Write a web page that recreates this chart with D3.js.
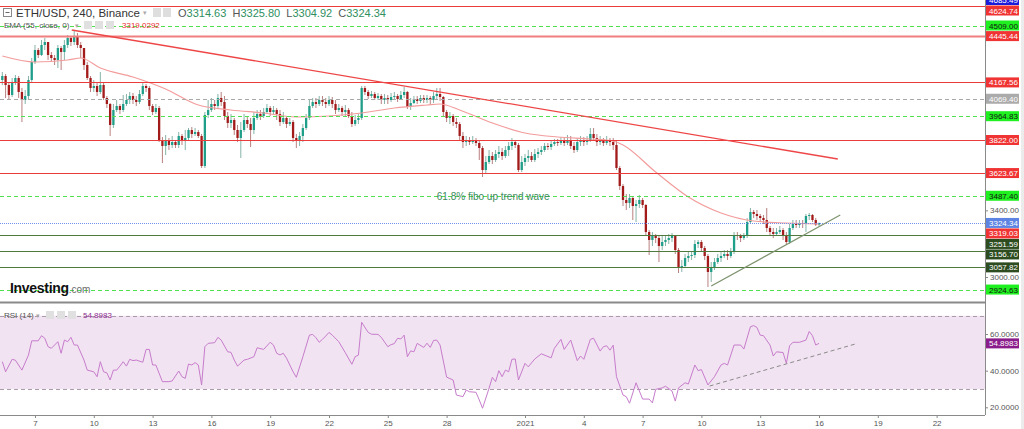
<!DOCTYPE html>
<html><head><meta charset="utf-8">
<script src="https://cdn.jsdelivr.net/npm/d3@7"></script>
<style>
body{margin:0;background:#fff;}
svg{display:block;font-family:"Liberation Sans",Arial,sans-serif;}
</style>
</head><body>
<svg id="chart" width="1024" height="429"></svg>
<script>
// ---------------- DATA ----------------
const symbolTitle = "ETH/USD, 240, Binance";
const firstCandleUTC = [2020, 11, 5, 8];   // Dec 5 2020 08:00
const candleHours = 4;
const firstOpen = 4182;
const closes = [
4206,4152,4092,4170,4194,4110,4062,4086,4182,4290,
4362,4332,4392,4410,4332,4314,4302,4374,4350,4392,
4434,4410,4446,4392,4374,4272,4194,4134,4146,4110,
4152,4074,4038,3912,4002,4026,4002,4038,4062,4086,
4062,4050,4098,4146,4134,4026,3990,4014,3822,3786,
3822,3792,3810,3792,3846,3816,3834,3882,3858,3870,
3846,3666,3972,4002,4038,4026,4074,4050,3966,3924,
3942,3882,3834,3882,3942,3918,3882,3954,3978,3966,
3990,4014,3990,4002,3978,3930,3954,3918,3930,3834,
3822,3846,3894,3954,4026,4050,4038,4062,4050,4038,
4062,4038,4002,4014,3990,4002,3966,3918,3942,3954,
4134,4110,4086,4098,4074,4086,4062,4074,4062,4080,
4086,4068,4092,4110,4020,4044,4068,4056,4074,4062,
4074,4062,4086,4098,4080,3990,3954,3966,3930,3918,
3846,3810,3822,3810,3822,3804,3774,3642,3690,3726,
3702,3738,3750,3726,3762,3786,3810,3792,3642,3690,
3714,3726,3702,3738,3750,3762,3786,3780,3798,3810,
3804,3816,3804,3822,3786,3762,3810,3822,3810,3822,
3858,3834,3810,3822,3804,3822,3810,3792,3654,3546,
3462,3444,3474,3426,3438,3462,3432,3270,3222,3246,
3234,3186,3210,3222,3234,3246,3162,3054,3066,3114,
3126,3132,3198,3210,3174,3126,3030,3054,3090,3114,
3126,3138,3126,3150,3252,3246,3234,3246,3330,3390,
3378,3366,3354,3342,3294,3270,3258,3270,3282,3246,
3210,3294,3318,3312,3324,3318,3366,3372,3342,3314.63,
3324.34];
const highs = [
4230,4218,4164,4194,4212,4206,4134,4122,4206,4314,
4392,4374,4422,4434,4410,4350,4332,4392,4386,4422,
4452,4446,4482,4464,4410,4374,4290,4206,4182,4170,
4230,4170,4086,4044,4038,4062,4038,4092,4098,4110,
4104,4086,4122,4170,4158,4146,4038,4038,4026,3840,
3852,3834,3846,3822,3870,3858,3882,3894,3900,3894,
3882,3858,3990,4062,4074,4062,4098,4110,4086,3990,
3978,3954,3912,3930,3978,3966,3954,3990,4002,4002,
4014,4038,4026,4026,4014,4002,3990,3966,3954,3942,
3858,3870,3918,3978,4062,4074,4074,4086,4086,4074,
4086,4080,4062,4038,4026,4032,4014,3990,3972,3978,
4146,4146,4122,4116,4110,4104,4098,4098,4092,4104,
4110,4098,4116,4140,4116,4074,4086,4086,4092,4092,
4092,4086,4110,4134,4134,4086,4002,3990,3978,3954,
3930,3870,3846,3840,3846,3834,3822,3786,3726,3762,
3750,3762,3786,3774,3786,3810,3834,3822,3804,3726,
3738,3762,3750,3768,3774,3786,3804,3804,3822,3828,
3828,3840,3834,3852,3846,3810,3834,3846,3840,3846,
3894,3894,3858,3846,3834,3846,3834,3834,3822,3666,
3558,3498,3498,3486,3462,3492,3474,3438,3282,3270,
3258,3246,3246,3246,3258,3264,3246,3174,3102,3138,
3150,3150,3222,3222,3222,3186,3138,3090,3114,3138,
3150,3162,3162,3174,3270,3270,3258,3264,3354,3414,
3402,3402,3378,3372,3414,3306,3294,3294,3306,3294,
3270,3318,3342,3342,3342,3342,3378,3384,3378,3354,
3325.80];
const lows = [
4152,4074,4062,4080,4152,4074,3930,4038,4062,4170,
4278,4314,4326,4362,4302,4290,4272,4254,4242,4302,
4374,4386,4392,4374,4314,4242,4182,4110,4110,4086,
4098,4062,4014,3846,3894,3990,3978,3990,4026,4038,
4038,4026,4038,4086,4110,4002,3972,3978,3810,3684,
3732,3762,3774,3774,3774,3792,3762,3822,3834,3846,
3834,3654,3654,3954,3990,4002,4014,4026,3942,3894,
3894,3852,3810,3714,3870,3894,3780,3858,3942,3942,
3954,3978,3966,3978,3942,3906,3918,3894,3906,3810,
3774,3786,3810,3882,3942,4014,4014,4026,4026,4014,
4026,4014,3978,3990,3966,3966,3954,3900,3906,3918,
3942,4092,4068,4074,4062,4062,4038,4038,4038,4050,
4062,4050,4062,4074,4008,4002,4038,4038,4044,4044,
4044,4038,4044,4062,4056,3966,3930,3918,3906,3894,
3822,3774,3786,3792,3798,3786,3702,3600,3618,3678,
3678,3690,3714,3702,3714,3726,3762,3774,3630,3630,
3666,3690,3690,3690,3714,3732,3750,3762,3762,3786,
3786,3792,3786,3792,3768,3744,3750,3786,3786,3792,
3810,3816,3786,3792,3786,3792,3786,3762,3642,3522,
3426,3402,3414,3342,3330,3414,3414,3246,3132,3186,
3204,3090,3162,3186,3198,3210,3138,3024,3030,3054,
3090,3102,3114,3174,3150,3102,2940,2970,3042,3078,
3090,3114,3102,3114,3138,3222,3210,3222,3234,3318,
3354,3342,3330,3318,3270,3246,3234,3246,3258,3222,
3198,3198,3282,3294,3294,3294,3270,3342,3330,3306,
3304.92];

// EMA(55) read at selected candles
const emaBars =   [0,10,20,24,30,40,50,60,70,80,90,100,110,120,130,134,140,150,160,170,180,187,190,200,210,220,230,240,250];
const emaValues = [4326,4290,4302,4314,4254,4200,4128,4032,4002,3984,3960,3966,3984,4014,4032,4038,4002,3924,3864,3840,3828,3816,3792,3630,3480,3384,3336,3324,3319.03];
const emaLast = "3319.0292";

// RSI(14) read at selected candles
const rsiBars = [0,1,3,4,6,8,9,11,12,13,14,15,17,18,19,20,21,22,23,25,26,28,29,30,31,32,33,34,35,36,37,38,39,40,41,43,44,45,46,47,49,51,52,54,55,56,57,58,59,60,61,62,63,65,66,67,69,70,71,72,74,75,77,78,80,82,83,84,85,86,87,89,90,92,94,95,96,97,98,99,100,101,103,105,107,108,109,110,112,113,115,116,118,119,120,121,122,123,124,125,126,127,129,130,131,132,133,134,136,138,139,141,142,143,145,146,147,149,150,151,152,153,154,155,156,157,158,160,161,163,165,168,169,171,172,174,176,177,178,180,181,183,184,185,186,187,188,190,191,192,194,196,198,199,200,202,203,205,206,207,209,210,212,213,214,216,218,220,221,222,224,226,227,229,230,231,232,233,235,236,237,239,240,241,242,244,246,247,248,249,250];
const rsiValues = [44.9,39.4,46.2,45.7,40.3,48.5,56.3,56.3,59.1,57.7,53.1,52.2,55.8,49.5,56.7,55.8,58.2,54.0,54.0,45.8,40.3,39.4,36.7,44.9,39.4,38.8,34.9,40.3,40.3,42.5,44.9,42.5,46.2,45.5,45.8,44.6,51.6,51.6,43.1,43.1,34.0,34.0,34.4,39.8,36.7,35.8,43.6,43.1,44.4,43.1,32.2,53.1,54.9,55.3,58.2,56.7,50.3,50.0,45.8,42.5,45.8,46.2,47.6,52.5,51.6,55.5,54.0,49.5,48.6,49.5,46.8,39.4,36.4,47.6,59.4,59.8,58.0,55.5,57.1,58.9,60.9,59.4,55.8,49.8,43.5,47.6,48.5,66.4,60.9,59.9,59.8,58.2,53.1,54.2,54.8,57.7,57.3,59.4,47.6,50.8,50.3,54.9,52.7,55.0,52.7,56.5,56.7,54.0,36.5,34.9,26.7,25.8,29.4,28.5,28.2,24.0,19.5,30.4,36.4,34.0,40.0,36.7,40.3,39.4,46.2,46.4,34.9,44.0,42.1,46.4,49.2,47.0,52.2,57.1,51.6,56.7,45.5,48.0,46.2,57.1,57.7,50.7,53.1,53.6,51.2,53.9,36.7,26.7,25.8,22.2,33.4,24.5,24.5,22.4,29.8,30.6,31.5,28.9,23.4,30.6,33.4,32.7,43.1,40.0,40.6,32.2,36.7,43.1,44.0,43.1,54.0,54.0,51.8,64.0,64.6,63.6,59.4,59.1,54.0,48.0,50.3,49.9,44.0,53.6,55.5,55.5,56.7,61.4,59.1,54.0,54.8983];
const rsiLast = "54.8983";
const rsiBands = [70, 30];
const rsiTicks = [20, 40, 60];

// Horizontal levels
const redLevels = [4624.74, 4445.44, 4167.56, 3822.00, 3623.67];
const greenDashLevels = [4509.00, 3964.83, 3487.40, 2924.63];
const grayDashLevels = [4069.40];
const darkGreenLevels = [3251.59, 3156.70, 3057.82];
const lastPrice = 3324.34;
const emaLabelValue = 3319.03;
const topHighLabel = 4685.49;

// Trend lines: [dateTime, value]
const resistanceLine = [["2020-12-08T21:00:00Z", 4482], ["2021-01-16T23:00:00Z", 3708]];
const supportLine = [["2021-01-10T12:00:00Z", 2946], ["2021-01-17T02:00:00Z", 3372]];
const rsiTrendLine = [["2021-01-10T10:00:00Z", 31.6], ["2021-01-17T20:00:00Z", 54.5]];
const annotationText = "61.8% fibo up trend wave";
const annotationAt = ["2020-12-27T12:00:00Z", 3460];

// Axis ticks
const priceTicks = [3000, 3200, 3400, 3600, 3800, 4000, 4200, 4400, 4600];
const xTickDates = ["2020-12-07","2020-12-10","2020-12-13","2020-12-16","2020-12-19","2020-12-22","2020-12-25","2020-12-28","2021-01-01","2021-01-04","2021-01-07","2021-01-10","2021-01-13","2021-01-16","2021-01-19","2021-01-22"];
const xTickLabels = ["7","10","13","16","19","22","25","28","2021","4","7","10","13","16","19","22"];

// ---------------- LAYOUT ----------------
const svg = d3.select("#chart");
const plotR = 985, mainBot = 302, rsiTop = 304, rsiBot = 415;
const H = 3600e3;
const t0 = Date.UTC(...firstCandleUTC);
const timeOf = i => new Date(t0 + i * candleHours * H);
const candles = closes.map((c, i) => {
  const o = i ? closes[i - 1] : firstOpen;
  return {t: timeOf(i), o, c, h: Math.max(highs[i], o, c), l: Math.min(lows[i], o, c)};
});

const x = d3.scaleUtc()
  .domain([new Date(Date.UTC(2020, 11, 5, 5, 9)), new Date(Date.UTC(2021, 0, 24, 11, 15))])
  .range([0, plotR]);
const y = d3.scaleLinear().domain([2850, 4662]).range([mainBot, 0]);
const yr = d3.scaleLinear().domain([15.8, 76.4]).range([rsiBot, rsiTop]);

const defs = svg.append("defs");
defs.append("clipPath").attr("id", "clipMain").append("rect").attr("x", 0).attr("y", 0).attr("width", plotR).attr("height", mainBot);
defs.append("clipPath").attr("id", "clipRsi").append("rect").attr("x", 0).attr("y", rsiTop).attr("width", plotR).attr("height", rsiBot - rsiTop);

// ---------------- MAIN PANEL ----------------
const main = svg.append("g").attr("clip-path", "url(#clipMain)");

// candles
const cw = 2.3;
const candleG = main.append("g");
candleG.selectAll("line.wick").data(candles).join("line")
  .attr("x1", d => x(d.t)).attr("x2", d => x(d.t))
  .attr("y1", d => y(d.h)).attr("y2", d => y(d.l))
  .attr("stroke", d => d.c >= d.o ? "#86b3a8" : "#b98080").attr("stroke-width", 1);
candleG.selectAll("rect.body").data(candles).join("rect")
  .attr("x", d => x(d.t) - cw / 2).attr("width", cw)
  .attr("y", d => y(Math.max(d.o, d.c)))
  .attr("height", d => Math.max(1, Math.abs(y(d.o) - y(d.c))))
  .attr("fill", d => d.c >= d.o ? "#1f9e89" : "#a31a1a");

// EMA
main.append("path")
  .datum(emaBars.map((b, i) => [b, emaValues[i]]))
  .attr("fill", "none").attr("stroke", "#f39c9c").attr("stroke-width", 1.2)
  .attr("d", d3.line().x(d => x(timeOf(d[0]))).y(d => y(d[1])).curve(d3.curveMonotoneX));

// Levels
function hline(vals, color, width, dash) {
  main.append("g").selectAll("line").data(vals).join("line")
    .attr("x1", 0).attr("x2", plotR)
    .attr("y1", d => Math.round(y(d)) + 0.5).attr("y2", d => Math.round(y(d)) + 0.5)
    .attr("stroke", color).attr("stroke-width", width)
    .attr("stroke-dasharray", dash || null);
}
hline(redLevels.filter(v => v !== 4445.44), "#ec3b3b", 1);
hline([4445.44], "#f07f7f", 2);
hline(greenDashLevels, "#4fdf4f", 1.2, "4,3");
hline(grayDashLevels, "#a8a8a8", 1, "4,3");
hline(darkGreenLevels, "#4f7a3e", 1);
hline([lastPrice], "#6f92ec", 1, "1,1");

// Trend lines
function tline(pts, sy, color, width, dash, g) {
  g.append("line")
    .attr("x1", x(new Date(pts[0][0]))).attr("y1", sy(pts[0][1]))
    .attr("x2", x(new Date(pts[1][0]))).attr("y2", sy(pts[1][1]))
    .attr("stroke", color).attr("stroke-width", width).attr("stroke-dasharray", dash || null);
}
tline(resistanceLine, y, "#ee4646", 1.3, null, main);
tline(supportLine, y, "#7f9470", 1.3, null, main);

// annotation
svg.append("text").attr("x", x(new Date(annotationAt[0]))).attr("y", y(annotationAt[1]))
  .attr("font-size", 10).attr("fill", "#3b8c5c").text(annotationText);

// Investing logo
const logo = svg.append("text").attr("x", 10).attr("y", 293);
logo.append("tspan").attr("font-size", 14).attr("font-weight", "bold").attr("fill", "#111").attr("letter-spacing", -0.3).text("Investing");
logo.append("tspan").attr("font-size", 10).attr("fill", "#6b6b6b").text(".com");

// Header
const hdr = svg.append("g");
hdr.append("rect").attr("x", 3.5).attr("y", 8.5).attr("width", 8).attr("height", 8).attr("fill", "#fff").attr("stroke", "#888");
hdr.append("line").attr("x1", 5.5).attr("x2", 9.5).attr("y1", 12.5).attr("y2", 12.5).attr("stroke", "#666");
hdr.append("text").attr("x", 16).attr("y", 16.5).attr("font-size", 11.5).attr("fill", "#333").text(symbolTitle);
hdr.append("text").attr("x", 143).attr("y", 15).attr("font-size", 7).attr("fill", "#aaa").text("▾");
[153, 163].forEach(px => hdr.append("rect").attr("x", px).attr("y", 8).attr("width", 8).attr("height", 9).attr("fill", "#dedede"));
const last = candles[candles.length - 1];
const ohlc = hdr.append("text").attr("x", 178).attr("y", 16.5).attr("font-size", 11).attr("xml:space", "preserve");
[["O", last.o], ["H", last.h], ["L", last.l], ["C", last.c]].forEach(([k, v], i) => {
  ohlc.append("tspan").attr("fill", "#555").text((i ? "  " : "") + k);
  ohlc.append("tspan").attr("fill", "#2f8f5f").text(v.toFixed(2));
});

hdr.append("text").attr("x", 4).attr("y", 28).attr("font-size", 8).attr("fill", "#555").text("EMA (55, close, 0)");
hdr.append("text").attr("x", 75).attr("y", 28).attr("font-size", 7).attr("fill", "#aaa").text("▾");
[84, 95, 106].forEach(px => hdr.append("rect").attr("x", px).attr("y", 21).attr("width", 8).attr("height", 8).attr("fill", "#e0e0e0"));
hdr.append("text").attr("x", 122).attr("y", 28).attr("font-size", 8).attr("fill", "#e83030").text(emaLast);

// ---------------- RSI PANEL ----------------
const rsi = svg.append("g").attr("clip-path", "url(#clipRsi)");
rsi.append("rect").attr("x", 0).attr("width", plotR)
  .attr("y", yr(rsiBands[0])).attr("height", yr(rsiBands[1]) - yr(rsiBands[0]))
  .attr("fill", "#f1e3f1");
rsi.selectAll("line.band").data(rsiBands).join("line")
  .attr("x1", 0).attr("x2", plotR)
  .attr("y1", d => Math.round(yr(d)) + 0.5).attr("y2", d => Math.round(yr(d)) + 0.5)
  .attr("stroke", "#aa9aaa").attr("stroke-width", 1).attr("stroke-dasharray", "4,3");
rsi.append("path")
  .datum(rsiBars.map((b, i) => [b, rsiValues[i]]))
  .attr("fill", "none").attr("stroke", "#c77ccc").attr("stroke-width", 1)
  .attr("d", d3.line().x(d => x(timeOf(d[0]))).y(d => yr(d[1])));
tline(rsiTrendLine, yr, "#8a8a8a", 1, "4,3", rsi);

svg.append("text").attr("x", 4).attr("y", 318).attr("font-size", 8).attr("fill", "#555").text("RSI (14)");
svg.append("text").attr("x", 36).attr("y", 318).attr("font-size", 7).attr("fill", "#aaa").text("▾");
[46, 57, 68].forEach(px => svg.append("rect").attr("x", px).attr("y", 311).attr("width", 8).attr("height", 8).attr("fill", "#e0e0e0"));
svg.append("text").attr("x", 83).attr("y", 318).attr("font-size", 8).attr("fill", "#8e2a8e").text(rsiLast);

// ---------------- FRAMES / AXES ----------------
svg.append("rect").attr("x", 0).attr("y", 301.5).attr("width", plotR).attr("height", 2).attr("fill", "#8a8a8a");
svg.append("line").attr("x1", plotR + 0.5).attr("x2", plotR + 0.5).attr("y1", 0).attr("y2", rsiBot).attr("stroke", "#8a8a8a");
svg.append("line").attr("x1", 0).attr("x2", plotR).attr("y1", rsiBot + 0.5).attr("y2", rsiBot + 0.5).attr("stroke", "#8a8a8a");
svg.append("rect").attr("x", 1021).attr("y", 0).attr("width", 3).attr("height", 429).attr("fill", "#ececec");

// Price labels with collision avoidance
const labels = [];
labels.push({v: topHighLabel, fill: "#1b1bdc", tc: "#fff"});
redLevels.forEach(v => labels.push({v, fill: "#f03434", tc: "#fff"}));
greenDashLevels.forEach(v => labels.push({v, fill: "#1ff01f", tc: "#111"}));
grayDashLevels.forEach(v => labels.push({v, fill: "#ababab", tc: "#fff"}));
darkGreenLevels.forEach(v => labels.push({v, fill: "#2d4c20", tc: "#fff"}));
labels.push({v: lastPrice, fill: "#5d84e2", tc: "#fff"});
labels.push({v: emaLabelValue, fill: "#f03434", tc: "#fff"});
labels.forEach(d => d.y = y(d.v));
labels.sort((a, b) => a.y - b.y);
const lh = 10.5;
labels.forEach((d, i) => {
  if (i === 0) d.y = Math.max(d.y, 0);
  else d.y = Math.max(d.y, labels[i - 1].y + lh);
});

function styleAxis(g) {
  g.select(".domain").remove();
  g.selectAll(".tick line").attr("stroke", "#888");
  g.selectAll(".tick text").attr("fill", "#555").attr("font-size", 8).attr("font-family", "Liberation Sans, Arial, sans-serif");
}
// price ticks whose text would sit under a coloured label are not printed
const visiblePriceTicks = priceTicks.filter(t => labels.every(l => Math.abs(l.y - y(t)) > 9.5));
svg.append("g").attr("transform", `translate(${plotR},0)`)
  .call(d3.axisRight(y).tickValues(visiblePriceTicks).tickFormat(d3.format(".2f")).tickSize(3).tickPadding(2))
  .call(styleAxis);
svg.append("g").attr("transform", `translate(${plotR},0)`)
  .call(d3.axisRight(yr).tickValues(rsiTicks).tickFormat(d => d.toFixed(4)).tickSize(3).tickPadding(2))
  .call(styleAxis);
svg.append("g").attr("transform", `translate(0,${rsiBot})`)
  .call(d3.axisBottom(x).tickValues(xTickDates.map(s => new Date(s + "T00:00:00Z"))).tickFormat((d, i) => xTickLabels[i]).tickSize(3).tickPadding(2))
  .call(styleAxis);

const lg = svg.append("g");
labels.forEach(d => {
  lg.append("rect").attr("x", plotR + 1).attr("y", d.y - 5).attr("width", 33).attr("height", 10).attr("fill", d.fill);
  lg.append("text").attr("x", plotR + 4).attr("y", d.y + 3).attr("font-size", 8).attr("fill", d.tc).text(d.v.toFixed(2));
});
// RSI value label
lg.append("rect").attr("x", plotR + 1).attr("y", yr(+rsiLast) - 5).attr("width", 33).attr("height", 10).attr("fill", "#8b1c8b");
lg.append("text").attr("x", plotR + 4).attr("y", yr(+rsiLast) + 3).attr("font-size", 8).attr("fill", "#fff").text(rsiLast);
</script>
</body></html>
